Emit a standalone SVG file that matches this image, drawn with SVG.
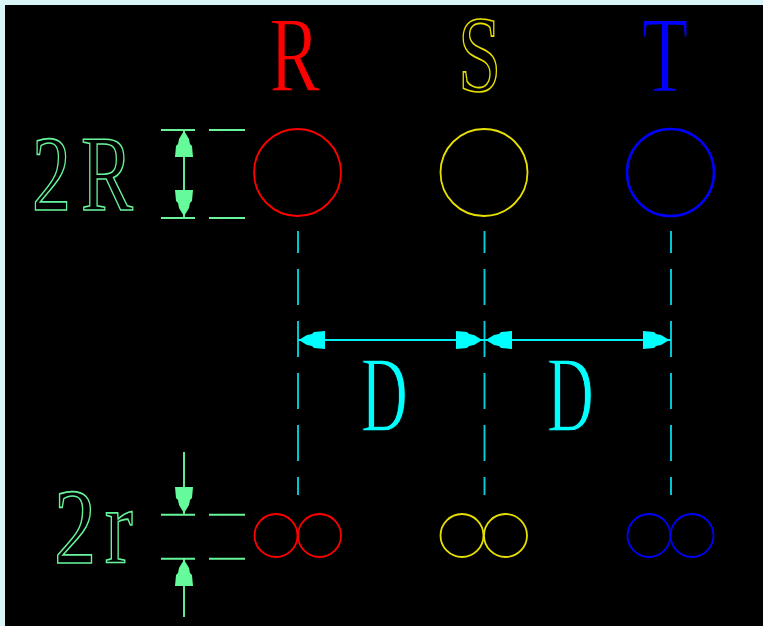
<svg xmlns="http://www.w3.org/2000/svg" width="763" height="626" viewBox="0 0 763 626">
<style>
.t{font-family:"Liberation Serif","Times New Roman",serif;font-size:108px}
.e{stroke:#000;stroke-width:1.300}
.o{fill:none;stroke-width:1.700}
.c{fill:none;stroke-width:1.8}
.g{stroke:#66f59a;fill:none;stroke-width:1.9}
.gf{fill:#66fb9a}
.cy{stroke:#00f0f0;fill:none;stroke-width:1.9}
.cf{fill:#00ffff}
.d{stroke:#00d0dc;fill:none;stroke-width:1.9;stroke-dasharray:36 16;stroke-dashoffset:14}
</style>
<defs>
<path id="h" d="M0 0 3-2 8-5 13-6 15-8 26-9V9L15 8 13 6 8 5 3 2Z"/>
</defs>
<rect width="763" height="626" fill="#d9f5f8"/>
<rect x="5" y="5" width="758" height="621" fill="#000"/>
<g id="connectors">
<path class="d" d="M298 231V495M484.500 231V495M671 231V495"/>
<path class="cy" d="M298 340H671"/>
<g class="cf">
<use href="#h" transform="translate(299 340)"/>
<use href="#h" transform="translate(482 340) rotate(180)"/>
<use href="#h" transform="translate(486 340)"/>
<use href="#h" transform="translate(669 340) rotate(180)"/>
</g>
<path class="g" d="M161 130H195M209 130H245M161 218H195M209 218H245M184 130V218M161 514.700H195M209 514.700H245M161 558.700H195M209 558.700H245M184 452V514M184 558V617"/>
<g class="gf">
<use href="#h" transform="translate(184 131) rotate(90)"/>
<use href="#h" transform="translate(184 216) rotate(-90)"/>
<use href="#h" transform="translate(184 513) rotate(-90)"/>
<use href="#h" transform="translate(184 560) rotate(90)"/>
</g>
</g>
<g id="node-R"><text class="t e" transform="translate(269.500 91) scale(.7 1)" fill="#f00">R</text><circle class="c" stroke="#f00" cx="297.500" cy="172.500" r="43.500"/><circle class="c" stroke="#f00" cx="276" cy="535.500" r="21.500"/><circle class="c" stroke="#f00" cx="319.500" cy="535.500" r="21.500"/></g>
<g id="node-S"><text class="t o" transform="translate(458 91) scale(.72 1)" stroke="#e8e000">S</text><circle class="c" stroke="#e8e000" cx="484" cy="172.500" r="43.500"/><circle class="c" stroke="#e8e000" cx="462" cy="535.500" r="21.500"/><circle class="c" stroke="#e8e000" cx="505.500" cy="535.500" r="21.500"/></g>
<g id="node-T"><text class="t e" transform="translate(642 91) scale(.7 1)" fill="#00f">T</text><circle class="c" stroke="#00f" cx="670.500" cy="172.500" r="43.500" style="stroke-width:2.500"/><circle class="c" stroke="#00f" cx="649" cy="535.500" r="21.500"/><circle class="c" stroke="#00f" cx="692" cy="535.500" r="21.500"/></g>
<g id="label-2R"><text class="t o" transform="translate(32 210) scale(.72 1)" x="0 68" stroke="#66f59a">2R</text></g>
<g id="label-2r"><text class="t o" transform="translate(54 563) scale(.78 1)" x="0 65" stroke="#66f59a">2r</text></g>
<g id="label-D1"><text class="t e" transform="translate(361 431) scale(.6 1)" fill="#00ffff">D</text></g>
<g id="label-D2"><text class="t e" transform="translate(547 431) scale(.6 1)" fill="#00ffff">D</text></g>
</svg>
